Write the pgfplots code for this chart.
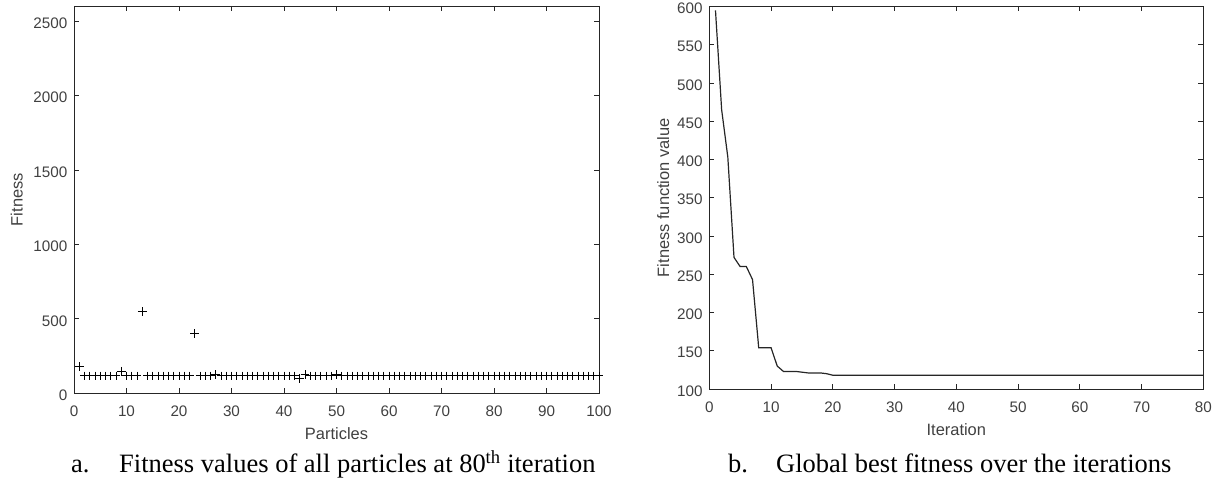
\documentclass[border=0pt]{standalone}
\usepackage{fontspec}
\setmainfont{Liberation Serif}
\newfontfamily\arialfont{Liberation Sans}
\usepackage{pgfplots}
\usepackage{pgfplotstable}
\pgfplotsset{compat=1.18}
\definecolor{axgray}{rgb}{0.15,0.15,0.15}
\definecolor{lblgray}{rgb}{0.25,0.25,0.25}

% fitness of every particle at the 80th iteration
\pgfplotstableread{
p f
1 180
2 117
3 117
4 117
5 117
6 117
7 117
8 117
9 148
10 117
11 117
12 117
13 550
14 117
15 117
16 117
17 117
18 117
19 117
20 117
21 117
22 117
23 400
24 117
25 117
26 117
27 126
28 117
29 117
30 117
31 117
32 117
33 117
34 117
35 117
36 117
37 117
38 117
39 117
40 117
41 117
42 117
43 100
44 126
45 117
46 117
47 117
48 117
49 117
50 126
51 117
52 117
53 117
54 117
55 117
56 117
57 117
58 117
59 117
60 117
61 117
62 117
63 117
64 117
65 117
66 117
67 117
68 117
69 117
70 117
71 117
72 117
73 117
74 117
75 117
76 117
77 117
78 117
79 117
80 117
81 117
82 117
83 117
84 117
85 117
86 117
87 117
88 117
89 117
90 117
91 117
92 117
93 117
94 117
95 117
96 117
97 117
98 117
99 117
100 117
}\particles

% global best fitness per iteration
\pgfplotstableread{
it g
1 595
2 465
3 403
4 272
5 260
6 260
7 243
8 154
9 154
10 154
11 130
12 123
13 123
14 123
15 122
16 121
17 121
18 121
19 120
20 118
30 118
40 118
50 118
60 118
70 118
80 118
}\gbest

\pgfplotsset{
  matlab/.style={
    scale only axis,
    anchor=south west,
    axis line style={axgray, line width=0.8bp},
    every tick/.style={axgray, line width=0.7bp},
    major tick length=5bp,
    tick align=inside,
    /pgf/number format/assume math mode=true,
    /pgf/number format/1000 sep={},
    tick label style={font=\arialfont\fontsize{15.3}{15.3}\selectfont, text=lblgray, inner sep=0pt},
    xticklabel style={anchor=north, yshift=-12.7bp},
    yticklabel style={anchor=east, xshift=-6.5bp, yshift=-2bp},
    label style={font=\arialfont\fontsize{16.5}{16.5}\selectfont, text=lblgray, inner sep=0pt},
    clip=false,
  }
}

\begin{document}
\begin{tikzpicture}
\useasboundingbox (0,0) rectangle (1218bp,482bp);

\begin{axis}[matlab,
  at={(74bp,88.7bp)},
  width=525bp, height=387.3bp,
  xmin=0, xmax=100, ymin=0, ymax=2600,
  xtick={0,10,...,100}, ytick={0,500,...,2500},
  xlabel={Particles},
  ylabel={Fitness},
  xlabel style={at={(axis description cs:0.5,0)}, anchor=center, yshift=-40bp},
  ylabel style={at={(axis description cs:0,0.5)}, anchor=center, yshift=57.3bp},
]
\addplot[only marks, mark=+, mark size=4.3bp, black, mark options={line width=0.9bp}]
  table[x=p, y=f] {\particles};
\end{axis}

\begin{axis}[matlab,
  at={(709.3bp,93bp)},
  width=494bp, height=382.5bp,
  xmin=0, xmax=80, ymin=100, ymax=600,
  xtick={0,10,...,80}, ytick={100,150,...,600},
  xlabel={Iteration},
  ylabel={Fitness function value},
  xlabel style={at={(axis description cs:0.5,0)}, anchor=center, yshift=-41bp},
  ylabel style={at={(axis description cs:0,0.5)}, anchor=center, yshift=46bp},
]
\addplot[black!85, line width=1.2bp] table[x=it, y=g] {\gbest};
\end{axis}

% figure captions
\begin{scope}[every node/.style={inner sep=0pt, anchor=base west, font=\fontsize{26.6}{26.6}\selectfont}]
\node at (71bp,9.7bp) {a.};
\node at (119bp,9.7bp) {Fitness values of all particles at 80\textsuperscript{th} iteration};
\node at (728bp,9.7bp) {b.};
\node at (776bp,9.7bp) {Global best fitness over the iterations};
\end{scope}
\end{tikzpicture}
\end{document}
